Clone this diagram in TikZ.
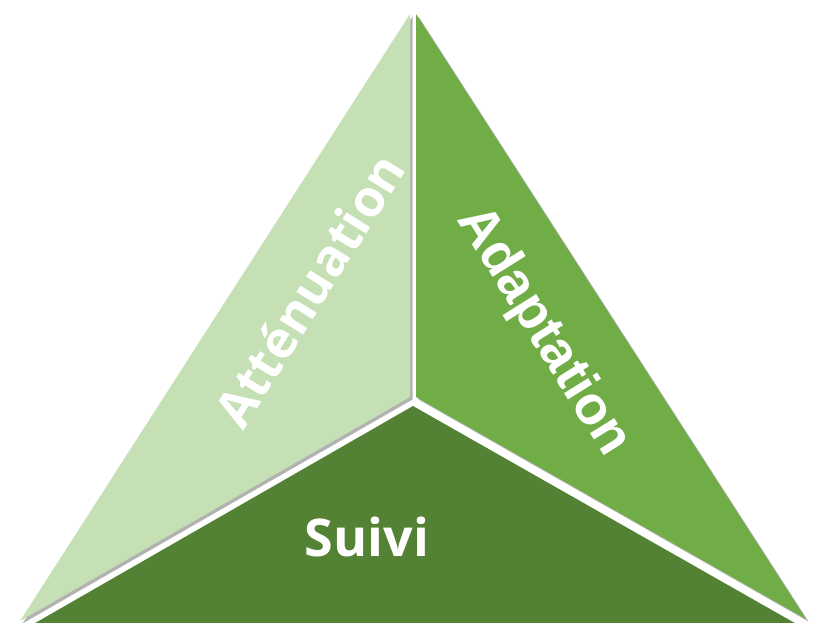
\documentclass[tikz,border=0pt]{standalone}
\usepackage{fontspec}
\newfontfamily\osfont{Open Sans}
\newfontfamily\lsfont{Liberation Sans}
\usetikzlibrary{shadows}
\definecolor{lightg}{HTML}{C5E0B4}
\definecolor{midg}{HTML}{70AD47}
\definecolor{darkg}{HTML}{548235}
\tikzset{
  piece/.style={drop shadow={shadow xshift=2.5pt, shadow yshift=-2.5pt, opacity=.3, fill=black}},
  lbl/.style={text=white, inner sep=0pt},
}
\begin{document}
\begin{tikzpicture}[x=1pt,y=-1pt]
\useasboundingbox (0,0) rectangle (822,623);
% vertices
\coordinate (lt) at (410,14);
\coordinate (lc) at (410,397);
\coordinate (lb) at (20,621);
\coordinate (rt) at (416,14);
\coordinate (rc) at (416,397);
\coordinate (rb) at (806,619);
\coordinate (bc) at (413,406);
\coordinate (bl) at (30,626);
\coordinate (br) at (800,626);
% pieces
\fill[lightg, piece] (lt) -- (lc) -- (lb) -- cycle;
\fill[midg, piece] (rt) -- (rc) -- (rb) -- cycle;
\fill[darkg, piece] (bc) -- (br) -- (bl) -- cycle;
% labels
\node[lbl, rotate=58] (at) at (309,290) {\osfont\bfseries\fontsize{51}{58}\selectfont Atténuation};
\node[lbl, rotate=-58] (ad) at (543,332) {\lsfont\bfseries\fontsize{54}{62}\selectfont Adaptation};
\node[lbl] (su) at (367,537) {\osfont\bfseries\fontsize{52}{60}\selectfont Suivi};
\end{tikzpicture}
\end{document}
